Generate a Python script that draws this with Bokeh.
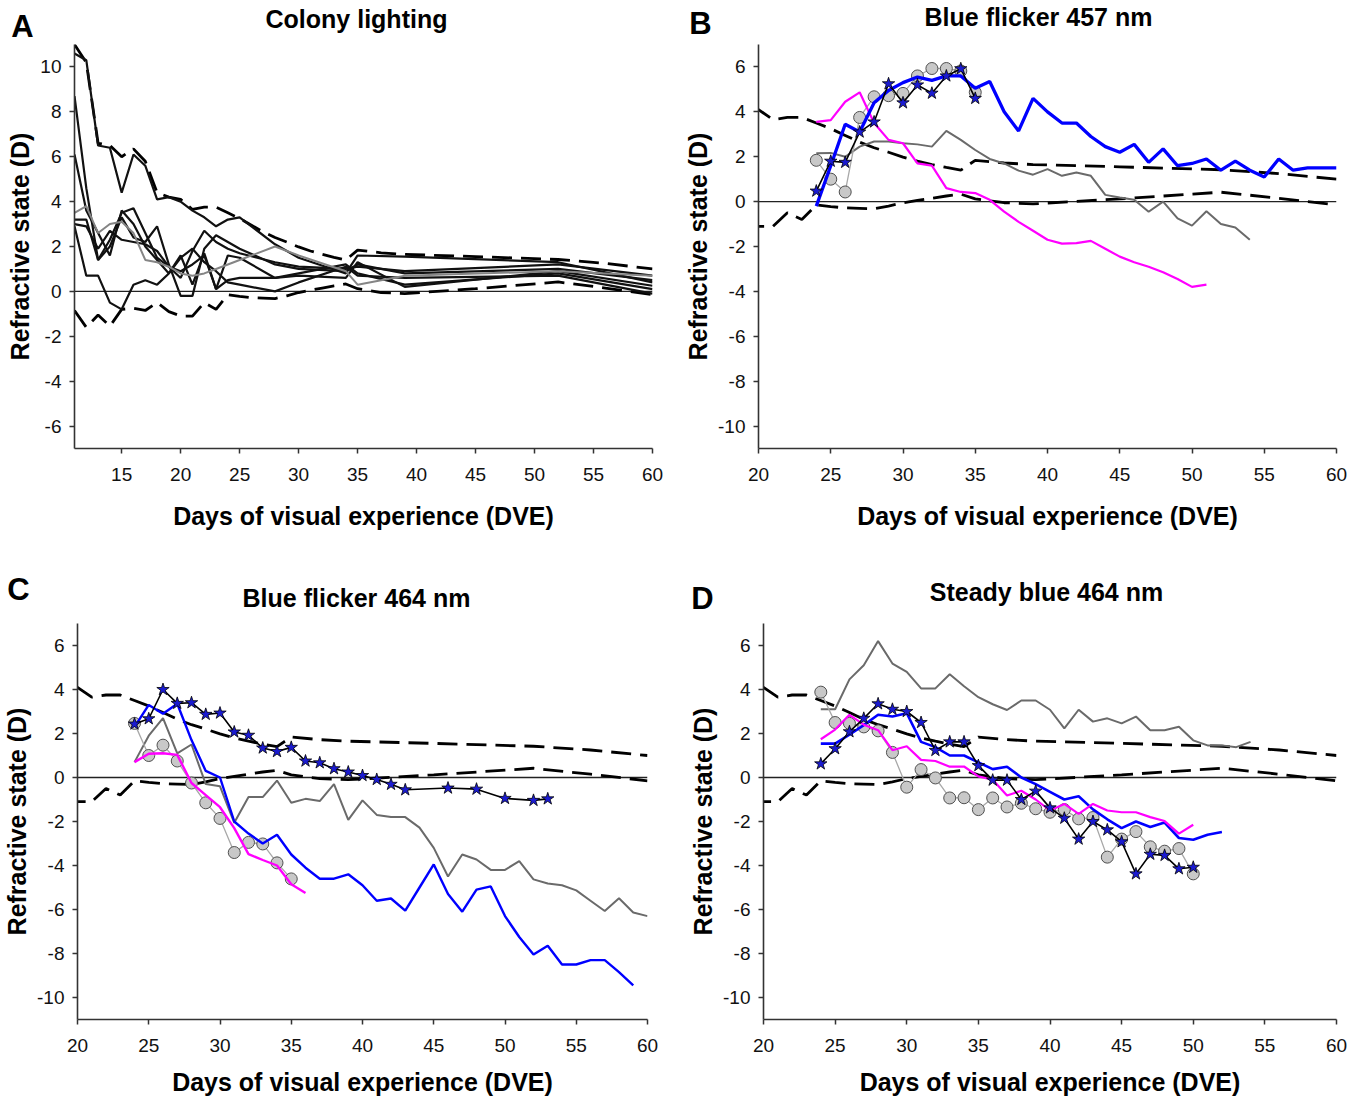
from bokeh.plotting import figure
from bokeh.models import Range1d, FixedTicker, Span, Label
from bokeh.layouts import row, column
from bokeh.embed import file_html
from bokeh.resources import INLINE

FONT = "Liberation Sans"

# ---------------- data ----------------
# colony-lighting envelope (dashed), shared by all panels
env_x = list(range(11, 35)) + [35, 37, 39, 45, 52, 56, 60]
env_upper = [11.0, 10.2, 6.6, 6.5, 6.0, 6.35, 5.8, 4.4, 4.2, 4.1,
             3.65, 3.75, 3.75, 3.5,
             3.25, 2.95, 2.65, 2.4, 2.2, 1.98, 1.8, 1.65, 1.52, 1.4,
             1.84, 1.72, 1.65, 1.55, 1.42, 1.25, 1.0]
env_lower = [-0.85, -1.6, -1.05, -1.55, -0.8, -0.75, -0.85, -0.5, -0.9, -1.1,
             -1.1, -0.5, -0.8, -0.15,
             -0.22, -0.28, -0.3, -0.32, -0.2, -0.05, 0.05, 0.15, 0.25, 0.33,
             0.12, -0.05, -0.1, 0.12, 0.42, 0.15, -0.15]

# Panel A: colony lighting, individual animals
a_days = list(range(11, 26)) + [28, 30, 34, 35, 39, 52, 60]
a_eye1 = [10.6, 10.3, 6.5, 6.4, 4.4, 6.1, 5.6, 4.1, 4.2, 4.0, 3.6, 3.3, 2.9, 3.2, 3.3, 2.1, 1.5, 0.8, 1.6, 1.55, 1.3, 0.4]
a_eye2 = [8.7, 4.6, 1.4, 2.0, 3.3, 2.4, 2.2, 2.9, 1.2, -0.2, -0.2, 1.9, 2.5, 2.2, 1.9, 1.2, 1.0, 0.9, 1.2, 0.8, 1.0, 0.5]
a_eye3 = [6.1, 3.6, 2.6, 1.6, 3.6, 3.0, 2.0, 1.4, 0.8, 1.6, 0.3, 1.7, 0.1, 1.6, 1.5, 0.6, 0.8, 1.2, 0.8, 0.3, 0.8, 0.1]
a_eye4 = [3.2, 3.2, 1.4, 2.3, 3.5, 3.7, 2.6, 1.5, 1.1, 0.6, 1.8, 2.7, 2.2, 1.9, 1.7, 1.3, 1.1, 1.0, 1.1, 0.9, 1.2, 0.7]
a_eye5 = [2.9, 0.7, 0.7, -0.5, -0.8, 0.3, 0.5, 0.3, 0.8, 1.5, 1.9, 1.3, 0.9, 0.4, 0.3, 0.0, 0.4, 1.1, 0.7, 0.6, 0.7, -0.1]
a_eye6 = [3.0, 2.9, 1.9, 2.7, 2.3, 2.2, 2.1, 1.8, 1.1, 0.9, 1.2, 1.6, 0.1, 0.5, 0.6, 0.6, 0.7, 0.6, 1.3, 0.2, 0.9, 0.25]
a_gray = [3.5, 3.8, 2.6, 3.0, 3.1, 2.6, 1.4, 1.3, 1.1, 0.8, 0.7, 0.8, 1.0, 1.2, 1.4, 2.0, 1.6, 0.9, 0.3, 0.7, 0.9, 0.7]

# Panel B: blue flicker 457 nm
b_blue_x = list(range(24, 61))
b_blue = [-0.2, 1.6, 3.45, 3.1, 4.4, 4.95, 5.3, 5.55, 5.4, 5.6, 5.6, 5.05, 5.35, 4.0, 3.15, 4.6, 4.0,
          3.5, 3.5, 2.9, 2.45, 2.2, 2.55, 1.75, 2.35, 1.6, 1.7, 1.9, 1.4, 1.8, 1.4, 1.1, 1.9, 1.4, 1.5, 1.5, 1.5]
b_magenta_x = list(range(24, 52))
b_magenta = [3.55, 3.63, 4.45, 4.87, 3.5, 2.75, 2.6, 1.7, 1.6, 0.6, 0.43, 0.38, 0.08, -0.45, -0.9, -1.3,
             -1.7, -1.87, -1.85, -1.75, -2.1, -2.45, -2.7, -2.9, -3.15, -3.45, -3.8, -3.7]
b_gray_x = list(range(24, 55))
b_gray = [2.15, 2.17, 2.0, 2.45, 2.68, 2.68, 2.6, 2.55, 2.45, 3.15, 2.75, 2.3, 1.9, 1.7, 1.38, 1.2, 1.45,
          1.15, 1.3, 1.15, 0.3, 0.18, 0.08, -0.45, 0.0, -0.75, -1.07, -0.43, -1.0, -1.15, -1.7]
b_circ_x = list(range(24, 36))
b_circ = [1.84, 1.0, 0.43, 3.75, 4.67, 4.72, 4.82, 5.6, 5.93, 5.93, 5.82, 4.87]
b_star_x = list(range(24, 36))
b_star = [0.47, 1.8, 1.75, 3.1, 3.55, 5.25, 4.4, 5.2, 4.83, 5.6, 5.92, 4.6]

# Panel C: blue flicker 464 nm
c_blue_x = list(range(24, 60))
c_blue = [2.3, 3.3, 2.9, 3.35, 1.7, 0.3, 0.0, -2.0, -2.55, -3.0, -2.6, -3.5, -4.1, -4.6, -4.6, -4.4,
          -4.9, -5.6, -5.5, -6.05, -5.0, -3.95, -5.3, -6.1, -5.1, -4.95, -6.3, -7.25, -8.05, -7.65,
          -8.5, -8.5, -8.3, -8.3, -8.85, -9.45]
c_gray_x = list(range(24, 61))
c_gray = [0.7, 1.9, 2.7, 1.1, 1.5, -0.3, -0.4, -2.06, -0.89, -0.89, -0.14, -1.15, -0.97, -1.07, -0.3,
          -1.93, -1.04, -1.7, -1.8, -1.8, -2.28, -3.2, -4.5, -3.5, -3.73, -4.2, -4.2, -3.8, -4.63,
          -4.82, -4.9, -5.13, -5.6, -6.07, -5.49, -6.14, -6.3]
c_magenta_x = list(range(24, 37))
c_magenta = [0.7, 1.08, 1.1, 1.03, -0.25, -0.8, -1.35, -2.3, -3.48, -3.75, -4.0, -4.85, -5.25]
c_circ_x = list(range(24, 36))
c_circ = [2.46, 1.0, 1.47, 0.75, -0.25, -1.15, -1.86, -3.41, -2.95, -3.02, -3.88, -4.61]
c_star_x = list(range(24, 44)) + [46, 48, 50, 52, 53]
c_star = [2.43, 2.67, 4.0, 3.37, 3.4, 2.87, 2.93, 2.07, 1.92, 1.34, 1.18, 1.37, 0.75, 0.67, 0.4, 0.25,
          0.09, -0.09, -0.31, -0.56, -0.48, -0.53, -0.95, -1.04, -0.97]

# Panel D: steady blue 464 nm
d_gray_x = list(range(24, 55))
d_gray = [3.1, 3.1, 4.46, 5.1, 6.2, 5.18, 4.8, 4.05, 4.05, 4.69, 4.15, 3.65, 3.33, 3.07, 3.5, 3.5,
          3.08, 2.23, 3.08, 2.54, 2.69, 2.46, 2.77, 2.15, 2.15, 2.31, 1.69, 1.46, 1.46, 1.38, 1.62]
d_blue_x = list(range(24, 53))
d_blue = [1.54, 1.54, 1.95, 2.38, 2.85, 2.77, 2.92, 1.62, 1.38, 1.0, 1.0, 0.69, 0.38, 0.49, 0.0, -0.3,
          -0.65, -1.0, -0.85, -1.45, -1.9, -2.3, -2.0, -2.25, -2.05, -2.75, -2.83, -2.6, -2.48]
d_magenta_x = list(range(24, 51))
d_magenta = [1.74, 2.18, 2.85, 2.4, 2.15, 1.24, 1.42, 0.8, 0.75, 0.49, 0.5, 0.05, -0.1, -0.82, -0.6,
             -1.0, -1.5, -1.2, -1.65, -1.2, -1.5, -1.58, -1.58, -1.8, -1.98, -2.55, -2.15]
d_circ_x = list(range(24, 51))
d_circ = [3.88, 2.5, 2.46, 2.3, 2.12, 1.14, -0.44, 0.36, -0.02, -0.93, -0.92, -1.46, -0.93, -1.34,
          -1.17, -1.42, -1.58, -1.46, -1.88, -1.82, -3.62, -2.8, -2.46, -3.15, -3.35, -3.23, -4.38]
d_star_x = list(range(24, 51))
d_star = [0.62, 1.31, 2.08, 2.69, 3.35, 3.1, 3.0, 2.5, 1.23, 1.62, 1.62, 0.54, -0.12, -0.12, -1.0,
          -0.62, -1.38, -1.85, -2.8, -2.0, -2.38, -2.92, -4.38, -3.49, -3.54, -4.15, -4.08]

x_label = "Days of visual experience (DVE)"
y_label = "Refractive state (D)"
titles = ["Colony lighting", "Blue flicker 457 nm", "Blue flicker 464 nm", "Steady blue 464 nm"]
letters = ["A", "B", "C", "D"]
a_xticks = [15, 20, 25, 30, 35, 40, 45, 50, 55, 60]
a_yticks = [-6, -4, -2, 0, 2, 4, 6, 8, 10]
bcd_xticks = [20, 25, 30, 35, 40, 45, 50, 55, 60]
bcd_yticks = [-10, -8, -6, -4, -2, 0, 2, 4, 6]

BLUE = "#0000ff"
MAGENTA = "#ff00ff"
GRAY = "#6a6a6a"

PAGE_W = 1368


def make_panel(xr, yr, xticks, yticks, w, h, bl, br, bt, bb, xlab_standoff):
    p = figure(width=w, height=h, x_range=Range1d(*xr), y_range=Range1d(*yr),
               output_backend="svg", toolbar_location=None, tools="",
               min_border_left=bl, min_border_right=br, min_border_top=bt, min_border_bottom=bb)
    p.title.text = ""
    p.title.visible = False
    p.xgrid.visible = False
    p.ygrid.visible = False
    p.outline_line_color = None
    p.background_fill_color = "white"
    p.border_fill_color = "white"
    p.xaxis.ticker = FixedTicker(ticks=xticks)
    p.yaxis.ticker = FixedTicker(ticks=yticks)
    p.yaxis.major_label_overrides = {t: str(t) for t in yticks}
    p.xaxis.axis_label = x_label
    p.yaxis.axis_label = y_label
    for ax in (p.xaxis[0], p.yaxis[0]):
        ax.axis_line_color = "#333333"
        ax.axis_line_width = 1.6
        ax.major_tick_line_color = "#333333"
        ax.major_tick_line_width = 1.5
        ax.major_tick_in = 0
        ax.major_tick_out = 5
        ax.minor_tick_line_color = None
        ax.major_label_text_font = FONT
        ax.major_label_text_font_size = "19px"
        ax.major_label_text_color = "#111111"
        ax.axis_label_text_font = FONT
        ax.axis_label_text_font_size = "25px"
        ax.axis_label_text_font_style = "bold"
        ax.axis_label_text_color = "black"
    p.xaxis.major_label_standoff = 14
    p.yaxis.major_label_standoff = 8
    p.xaxis.axis_label_standoff = xlab_standoff
    p.yaxis.axis_label_standoff = 3
    p.add_layout(Span(location=0, dimension="width", line_color="#222222", line_width=1.3, level="underlay"))
    return p


def make_header(h, items):
    """items: (text, x, y, size) in pixel positions measured from the header's top-left."""
    p = figure(width=PAGE_W, height=h, x_range=Range1d(0, PAGE_W), y_range=Range1d(h, 0),
               output_backend="svg", toolbar_location=None, tools="",
               x_axis_location=None, y_axis_location=None,
               min_border_left=0, min_border_right=0, min_border_top=0, min_border_bottom=0)
    p.title.text = ""
    p.title.visible = False
    p.grid.visible = False
    p.outline_line_color = None
    p.background_fill_color = "white"
    p.border_fill_color = "white"
    for text, x, y, size in items:
        p.add_layout(Label(x=x, y=y, text=text, text_font=FONT, text_font_size=size,
                           text_font_style="bold", text_align="center", text_baseline="middle",
                           text_color="black"))
    return p


def envelope(p):
    p.line(env_x, env_upper, line_color="black", line_width=2.8, line_dash="20 9")
    p.line(env_x, env_lower, line_color="black", line_width=2.8, line_dash="20 9")


def stars(p, xs, ys):
    p.line(xs, ys, line_color="black", line_width=1.6)
    p.scatter(xs, ys, marker="star", size=13, fill_color="#1b1bd0", line_color="black", line_width=0.8)


def circles(p, xs, ys):
    p.line(xs, ys, line_color="#a8a8a8", line_width=1.3)
    p.scatter(xs, ys, marker="circle", size=12, fill_color="#c8c8c8", line_color="#505050", line_width=1)


# ---------------- headers (panel letters and titles) ----------------
head1 = make_header(44, [(letters[0], 22, 26, "31px"), (titles[0], 356, 18, "25px"),
                         (letters[1], 700, 23, "31px"), (titles[1], 1038, 16, "25px")])
head2 = make_header(48, [(letters[2], 18, 21, "31px"), (titles[2], 356, 29, "25px"),
                         (letters[3], 702, 30, "31px"), (titles[3], 1046, 23, "25px")])

# ---------------- Panel A ----------------
pA = make_panel((11, 60), (-7, 11), a_xticks, a_yticks, 680, 524, 74, 28, 0, 120, 18)
envelope(pA)
for ys in (a_eye1, a_eye2, a_eye3, a_eye4, a_eye5, a_eye6):
    pA.line(a_days, ys, line_color="#111111", line_width=2.2)
pA.line(a_days, a_gray, line_color="#858585", line_width=2.0)

# ---------------- Panel B ----------------
pB = make_panel((20, 60), (-11, 7), bcd_xticks, bcd_yticks, 688, 524, 78, 32, 0, 120, 18)
envelope(pB)
pB.line(b_gray_x, b_gray, line_color=GRAY, line_width=2.0)
circles(pB, b_circ_x, b_circ)
pB.line(b_magenta_x, b_magenta, line_color=MAGENTA, line_width=2.2)
pB.line(b_blue_x, b_blue, line_color=BLUE, line_width=3.3)
stars(pB, b_star_x, b_star)

# ---------------- Panel C ----------------
pC = make_panel((20, 60), (-11, 7), bcd_xticks, bcd_yticks, 680, 490, 77, 33, 7, 87, 13)
envelope(pC)
pC.line(c_gray_x, c_gray, line_color=GRAY, line_width=2.0)
circles(pC, c_circ_x, c_circ)
pC.line(c_blue_x, c_blue, line_color=BLUE, line_width=2.4)
pC.line(c_magenta_x, c_magenta, line_color=MAGENTA, line_width=2.4)
stars(pC, c_star_x, c_star)

# ---------------- Panel D ----------------
pD = make_panel((20, 60), (-11, 7), bcd_xticks, bcd_yticks, 688, 490, 83, 32, 7, 87, 13)
envelope(pD)
pD.line(d_gray_x, d_gray, line_color=GRAY, line_width=2.0)
circles(pD, d_circ_x, d_circ)
pD.line(d_blue_x, d_blue, line_color=BLUE, line_width=2.6)
pD.line(d_magenta_x, d_magenta, line_color=MAGENTA, line_width=2.2)
stars(pD, d_star_x, d_star)

layout = column(head1, row(pA, pB), head2, row(pC, pD))
open("out.html", "w").write(file_html(layout, INLINE))
